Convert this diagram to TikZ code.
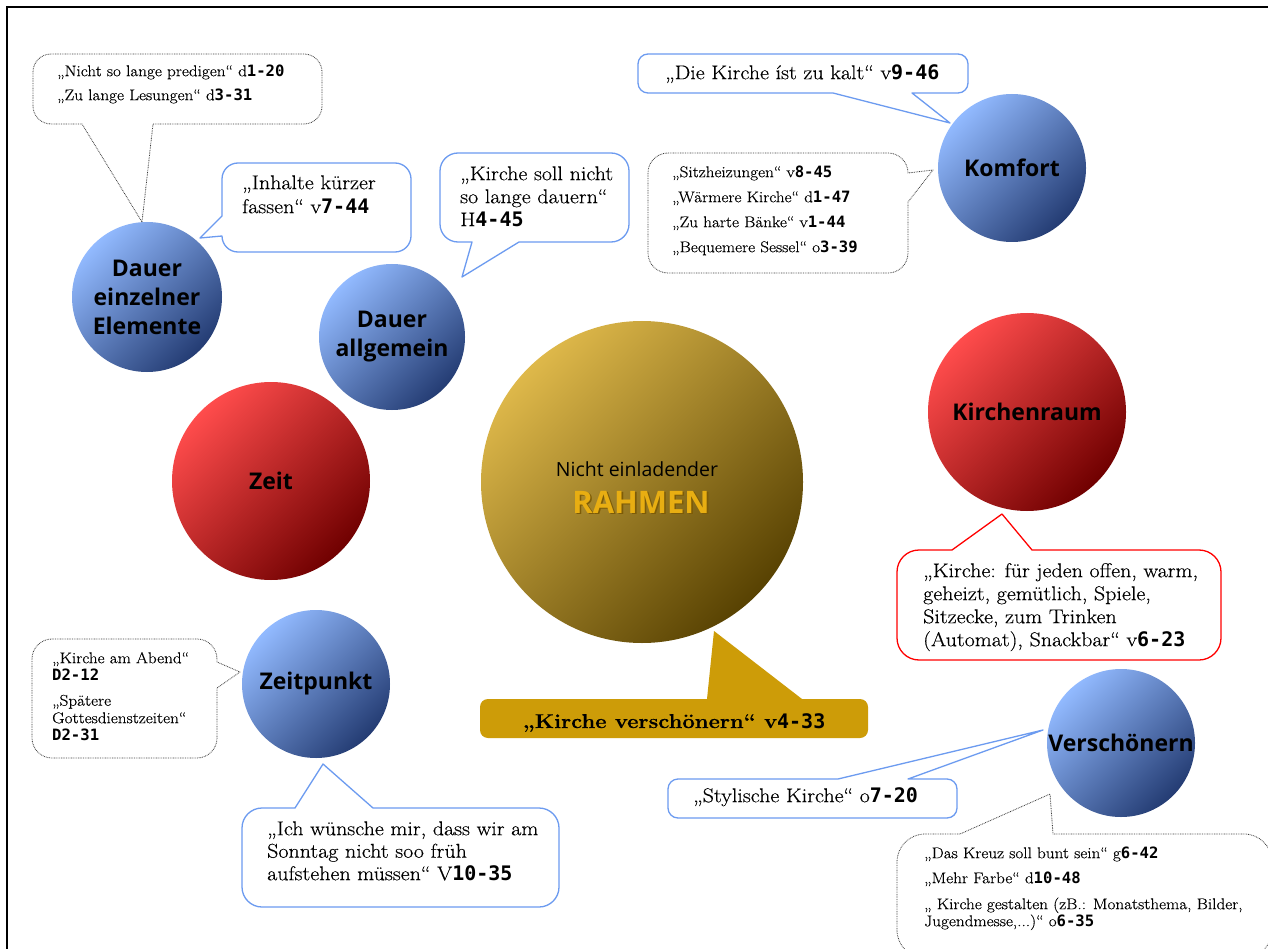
\documentclass[tikz,border=0pt]{standalone}
\usepackage{fontspec}
\setmainfont{Latin Modern Roman}[FakeStretch=1.1, FakeBold=0.35]
\newfontfamily\labfont{Open Sans}
\newfontfamily\codefont{DejaVu Sans Mono}
\newcommand\cd[1]{{\codefont\bfseries #1}}
\newcommand\firstln{\rule{0pt}{1em}}
\definecolor{bubblue}{RGB}{108,155,240}
\definecolor{dotgray}{RGB}{60,60,60}
\definecolor{goldfill}{RGB}{205,156,8}
\definecolor{blueL}{RGB}{146,186,255}
\definecolor{blueD}{RGB}{36,60,115}
\definecolor{redL}{RGB}{255,76,76}
\definecolor{redD}{RGB}{112,0,0}
\definecolor{goldL}{RGB}{222,184,74}
\definecolor{goldD}{RGB}{88,66,2}
\definecolor{rahmentext}{RGB}{232,174,18}
\definecolor{rahmenshadow}{RGB}{125,92,8}
\begin{document}
\begin{tikzpicture}[x=1pt,y=-1pt,
  bub/.style={fill=white, line width=1.3pt, line join=round},
  bluebub/.style={bub, draw=bubblue},
  redbub/.style={bub, draw=red},
  dotbub/.style={fill=white, draw=dotgray, line width=0.8pt, dash pattern=on 0.8pt off 0.9pt, line join=round},
  goldbub/.style={fill=goldfill},
  ball/.style={circle, inner sep=0pt, draw=none, shading angle=45},
  blueball/.style={top color=blueL, bottom color=blueD, ball, minimum size=148pt},
  redball/.style={top color=redL, bottom color=redD, ball, minimum size=198pt},
  goldball/.style={top color=goldL, bottom color=goldD, ball, minimum size=322pt},
  balllab/.style={inner sep=0pt, align=center, font=\labfont\bfseries\fontsize{23}{29}\selectfont},
  txt/.style={anchor=north west, inner sep=0pt, align=left},
  txts/.style={txt, font=\fontsize{15.6}{24}\selectfont},
  txtb/.style={txt, font=\fontsize{20}{23}\selectfont},
]
\useasboundingbox (0,0) rectangle (1268,949);
\clip (0,0) rectangle (1268,949);
\fill[white] (0,0) rectangle (1268,949);

% page frame
\draw[line width=1.3pt] (7,949) -- (7,7) -- (1268,7);

% pointer tips of the speech bubbles
\coordinate (p1) at (142,222);
\coordinate (p2) at (200,238);
\coordinate (p3) at (462,277);
\coordinate (p4) at (950,123);
\coordinate (p5) at (933,170);
\coordinate (p6) at (240,672);
\coordinate (p7) at (323,764);
\coordinate (p8) at (714,631);
\coordinate (p9) at (1002,514);
\coordinate (p10) at (1043,730);
\coordinate (p11) at (1050,794);

% speech bubbles
\draw[dotbub, rounded corners=18pt] (178,54) -- (322,54) -- (322,124) [sharp corners] -- (153,124) -- (p1) -- (82,124) [rounded corners=18pt] -- (33,124) -- (33,54) -- cycle;
\draw[bluebub, rounded corners=16pt] (316,163) -- (411,163) -- (411,252) -- (222,252) [sharp corners] -- (222,236) -- (p2) -- (222,216) [rounded corners=16pt] -- (222,163) -- cycle;
\draw[bluebub, rounded corners=18pt] (535,153) -- (629,153) -- (629,242) [sharp corners] -- (519,242) -- (p3) -- (472,242) [rounded corners=18pt] -- (440,242) -- (440,153) -- cycle;
\draw[bluebub, rounded corners=10pt] (800,54) -- (968,54) -- (968,93) [sharp corners] -- (912,93) -- (p4) -- (833,93) [rounded corners=10pt] -- (638,93) -- (638,54) -- cycle;
\draw[dotbub, rounded corners=20pt] (778,153) -- (908,153) [sharp corners] -- (908,173) -- (p5) -- (908,202) [rounded corners=20pt] -- (908,273) -- (648,273) -- (648,153) -- cycle;
\draw[dotbub, rounded corners=20pt] (124,639) -- (217,639) [sharp corners] -- (217,662) -- (p6) -- (217,688) [rounded corners=20pt] -- (217,758) -- (32,758) -- (32,639) -- cycle;
\draw[bluebub, rounded corners=20pt] (400,907) -- (242,907) -- (242,808) [sharp corners] -- (295,808) -- (p7) -- (373,808) [rounded corners=20pt] -- (559,808) -- (559,907) -- cycle;
\fill[goldbub, rounded corners=8pt] (674,738) -- (480,738) -- (480,699) [sharp corners] -- (707,699) -- (p8) -- (802,699) [rounded corners=8pt] -- (868,699) -- (868,738) -- cycle;
\draw[redbub, rounded corners=22pt] (1059,660) -- (897,660) -- (897,550) [sharp corners] -- (952,550) -- (p9) -- (1032,550) [rounded corners=22pt] -- (1221,550) -- (1221,660) -- cycle;
\draw[bluebub, rounded corners=10pt] (800,818) -- (668,818) -- (668,779) [sharp corners] -- (838,779) -- (p10) -- (908,779) [rounded corners=10pt] -- (957,779) -- (957,818) -- cycle;
\draw[dotbub, rounded corners=28pt] (1100,958) -- (897,958) -- (897,834) [sharp corners] -- (960,834) -- (p11) -- (1053,834) [rounded corners=28pt] -- (1272,834) -- (1272,958) -- cycle;

% topic circles
\node[goldball] (rahmen) at (642,482) {};
\node[blueball, minimum size=150pt] (dee) at (147,297) {};
\node[blueball, minimum size=146pt] (dal) at (392,337) {};
\node[redball] (zeit) at (271,481) {};
\node[redball] (kraum) at (1027,412) {};
\node[blueball] (kom) at (1012,168) {};
\node[blueball] (zp) at (316,684) {};
\node[blueball] (vs) at (1121,743) {};

\node[balllab] (deelab) at (dee) {Dauer\\einzelner\\Elemente};
\node[balllab] (dallab) at (dal) {Dauer\\allgemein};
\node[balllab] (zeitlab) at (zeit) {Zeit};
\node[balllab] (kraumlab) at (kraum) {Kirchenraum};
\node[balllab] (komlab) at (kom) {Komfort};
\node[balllab] (zplab) at (zp) {Zeitpunkt};
\node[balllab] (vslab) at (vs) {Verschönern};

\node[anchor=base, inner sep=0pt, font=\labfont\fontsize{19.5}{24}\selectfont] (ne) at (637,476) {Nicht einladender};
\node[anchor=base, inner sep=0pt, font=\labfont\bfseries\fontsize{31}{36}\selectfont, text=rahmenshadow] (rshadow) at (642.6,514.6) {RAHMEN};
\node[anchor=base, inner sep=0pt, font=\labfont\bfseries\fontsize{31}{36}\selectfont, text=rahmentext] (rtitle) at (641,513) {RAHMEN};

% bubble texts
\node[txts] (t1) at (57,60.4) {\firstln„Nicht so lange predigen“ d\cd{1-20}\\„Zu lange Lesungen“ d\cd{3-31}};
\node[txtb, font=\fontsize{20}{24}\selectfont] (t2) at (242,169) {\firstln„Inhalte kürzer\\fassen“ v\cd{7-44}};
\node[txtb] (t3) at (460,160) {\firstln„Kirche soll nicht\\so lange dauern“\\H\cd{4-45}};
\node[txtb] (t4) at (665,59) {\firstln„Die Kirche íst zu kalt“ v\cd{9-46}};
\node[txts, font=\fontsize{15.6}{25}\selectfont] (t5) at (672,161.4) {\firstln„Sitzheizungen“ v\cd{8-45}\\„Wärmere Kirche“ d\cd{1-47}\\„Zu harte Bänke“ v\cd{1-44}\\„Bequemere Sessel“ o\cd{3-39}};
\node[txts, font=\fontsize{15.6}{17.5}\selectfont] (t6) at (52,647.4) {\firstln„Kirche am Abend“\\\cd{D2-12}\\[7.5pt]„Spätere\\Gottesdienstzeiten“\\\cd{D2-31}};
\node[txtb, font=\fontsize{20}{22.5}\selectfont] (t7) at (267,815) {\firstln„Ich wünsche mir, dass wir am\\Sonntag nicht soo früh\\aufstehen müssen“ V\cd{10-35}};
\node[anchor=base, inner sep=0pt, font=\bfseries\fontsize{20}{26}\selectfont] (t8) at (674,728) {„Kirche verschönern“ v\cd{4-33}};
\node[txtb] (t9) at (923,557) {\firstln„Kirche: für jeden offen, warm,\\geheizt, gemütlich, Spiele,\\Sitzecke, zum Trinken\\(Automat), Snackbar“ v\cd{6-23}};
\node[txtb] (t10) at (693,782) {\firstln„Stylische Kirche“ o\cd{7-20}};
\node[txts, font=\fontsize{15.6}{17}\selectfont] (t11) at (924,842.4) {\firstln„Das Kreuz soll bunt sein“ g\cd{6-42}\\[8pt]„Mehr Farbe“ d\cd{10-48}\\[9pt]„ Kirche gestalten (zB.: Monatsthema, Bilder,\\Jugendmesse,...)“ o\cd{6-35}};
\end{tikzpicture}
\end{document}
